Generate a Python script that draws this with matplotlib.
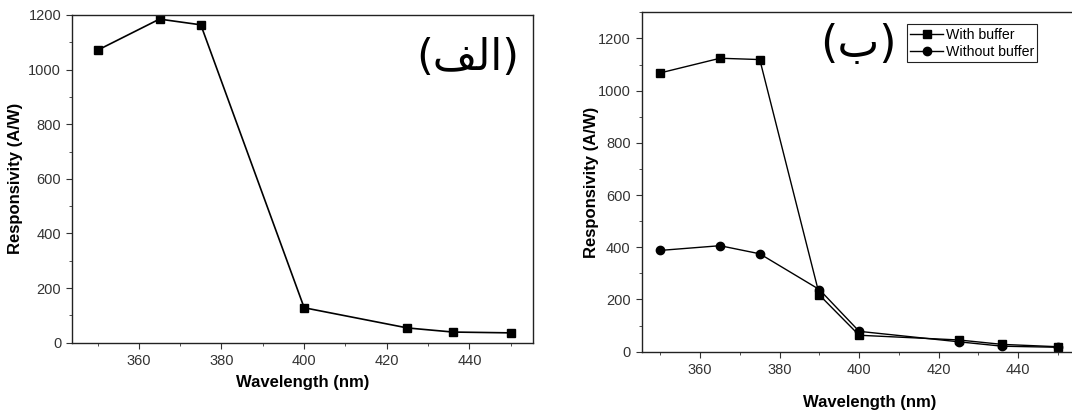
import matplotlib
matplotlib.use("Agg")
import matplotlib.pyplot as plt
from matplotlib.ticker import MultipleLocator, FixedLocator

plt.rcParams['font.family'] = ['Liberation Sans', 'DejaVu Sans']

# panel (a)
wl_a = [350, 365, 375, 400, 425, 436, 450]
resp_a = [1071, 1185, 1164, 128, 54, 39, 36]

# panel (b)
wl_b = [350, 365, 375, 390, 400, 425, 436, 450]
with_buffer = [1068, 1124, 1119, 217, 63, 45, 28, 19]
without_buffer = [388, 406, 375, 238, 78, 38, 21, 17]

x_major = [360, 380, 400, 420, 440]
x_minor = [350, 370, 390, 410, 430, 450]

label_a = "(" + "\ufed2\ufedf\ufe8d" + ")"   # (الف) pre-shaped, visual order
label_b = "(" + "\ufe8f" + ")"               # (ب)

W, H = 1072, 412
fig = plt.figure(figsize=(W / 100, H / 100), dpi=100)
ax1 = fig.add_axes([72.3 / W, 1 - 342.7 / H, 460.4 / W, 327.7 / H])
ax2 = fig.add_axes([641.7 / W, 1 - 351.7 / H, 456.0 / W, 339.4 / H])


def style(ax):
    for s in ax.spines.values():
        s.set_color('#222222')
        s.set_linewidth(1.0)
    ax.tick_params(which='both', direction='out', colors='#333333', labelsize=10.5,
                   top=False, right=False)
    ax.tick_params(which='major', length=4.5)
    ax.tick_params(which='minor', length=2.5)
    ax.xaxis.set_major_locator(FixedLocator(x_major))
    ax.xaxis.set_minor_locator(FixedLocator(x_minor))
    ax.yaxis.set_major_locator(MultipleLocator(200))
    ax.yaxis.set_minor_locator(MultipleLocator(100))
    ax.set_xlabel('Wavelength (nm)', fontsize=12, fontweight='bold')
    ax.set_ylabel('Responsivity (A/W)', fontsize=12, fontweight='bold')


ax1.plot(wl_a, resp_a, color='black', lw=1.2, marker='s', ms=5.5)
ax1.set_xlim(343.9, 455.3)
ax1.set_ylim(0, 1200)
style(ax1)
ax1.xaxis.labelpad = 5
ax1.yaxis.set_label_coords(-0.107, 0.5)
ax1.text(0.97, 0.869, label_a, transform=ax1.transAxes, fontsize=31,
         family='DejaVu Sans', ha='right', va='center')

ax2.plot(wl_b, with_buffer, color='black', lw=1.0, marker='s', ms=5.5, label='With buffer')
ax2.plot(wl_b, without_buffer, color='black', lw=1.0, marker='o', ms=6, label='Without buffer')
ax2.set_xlim(345.3, 460)
ax2.set_ylim(0, 1300)
style(ax2)
ax2.xaxis.labelpad = 13
ax2.yaxis.set_label_coords(-0.0936, 0.5)
ax2.text(0.475, 0.905, label_b, transform=ax2.transAxes, fontsize=32,
         family='DejaVu Sans', ha='center', va='center')
leg = ax2.legend(loc='upper left', bbox_to_anchor=((906.7 - 641.7) / 456.0, (351.7 - 24.3) / 339.4),
                 fontsize=10.2, frameon=True, fancybox=False, framealpha=1, edgecolor='#222222',
                 handlelength=2.3, handletextpad=0.2, borderpad=0.25,
                 labelspacing=0.2, borderaxespad=0)
leg.get_frame().set_linewidth(0.8)

fig.savefig('out.png', dpi=100)
